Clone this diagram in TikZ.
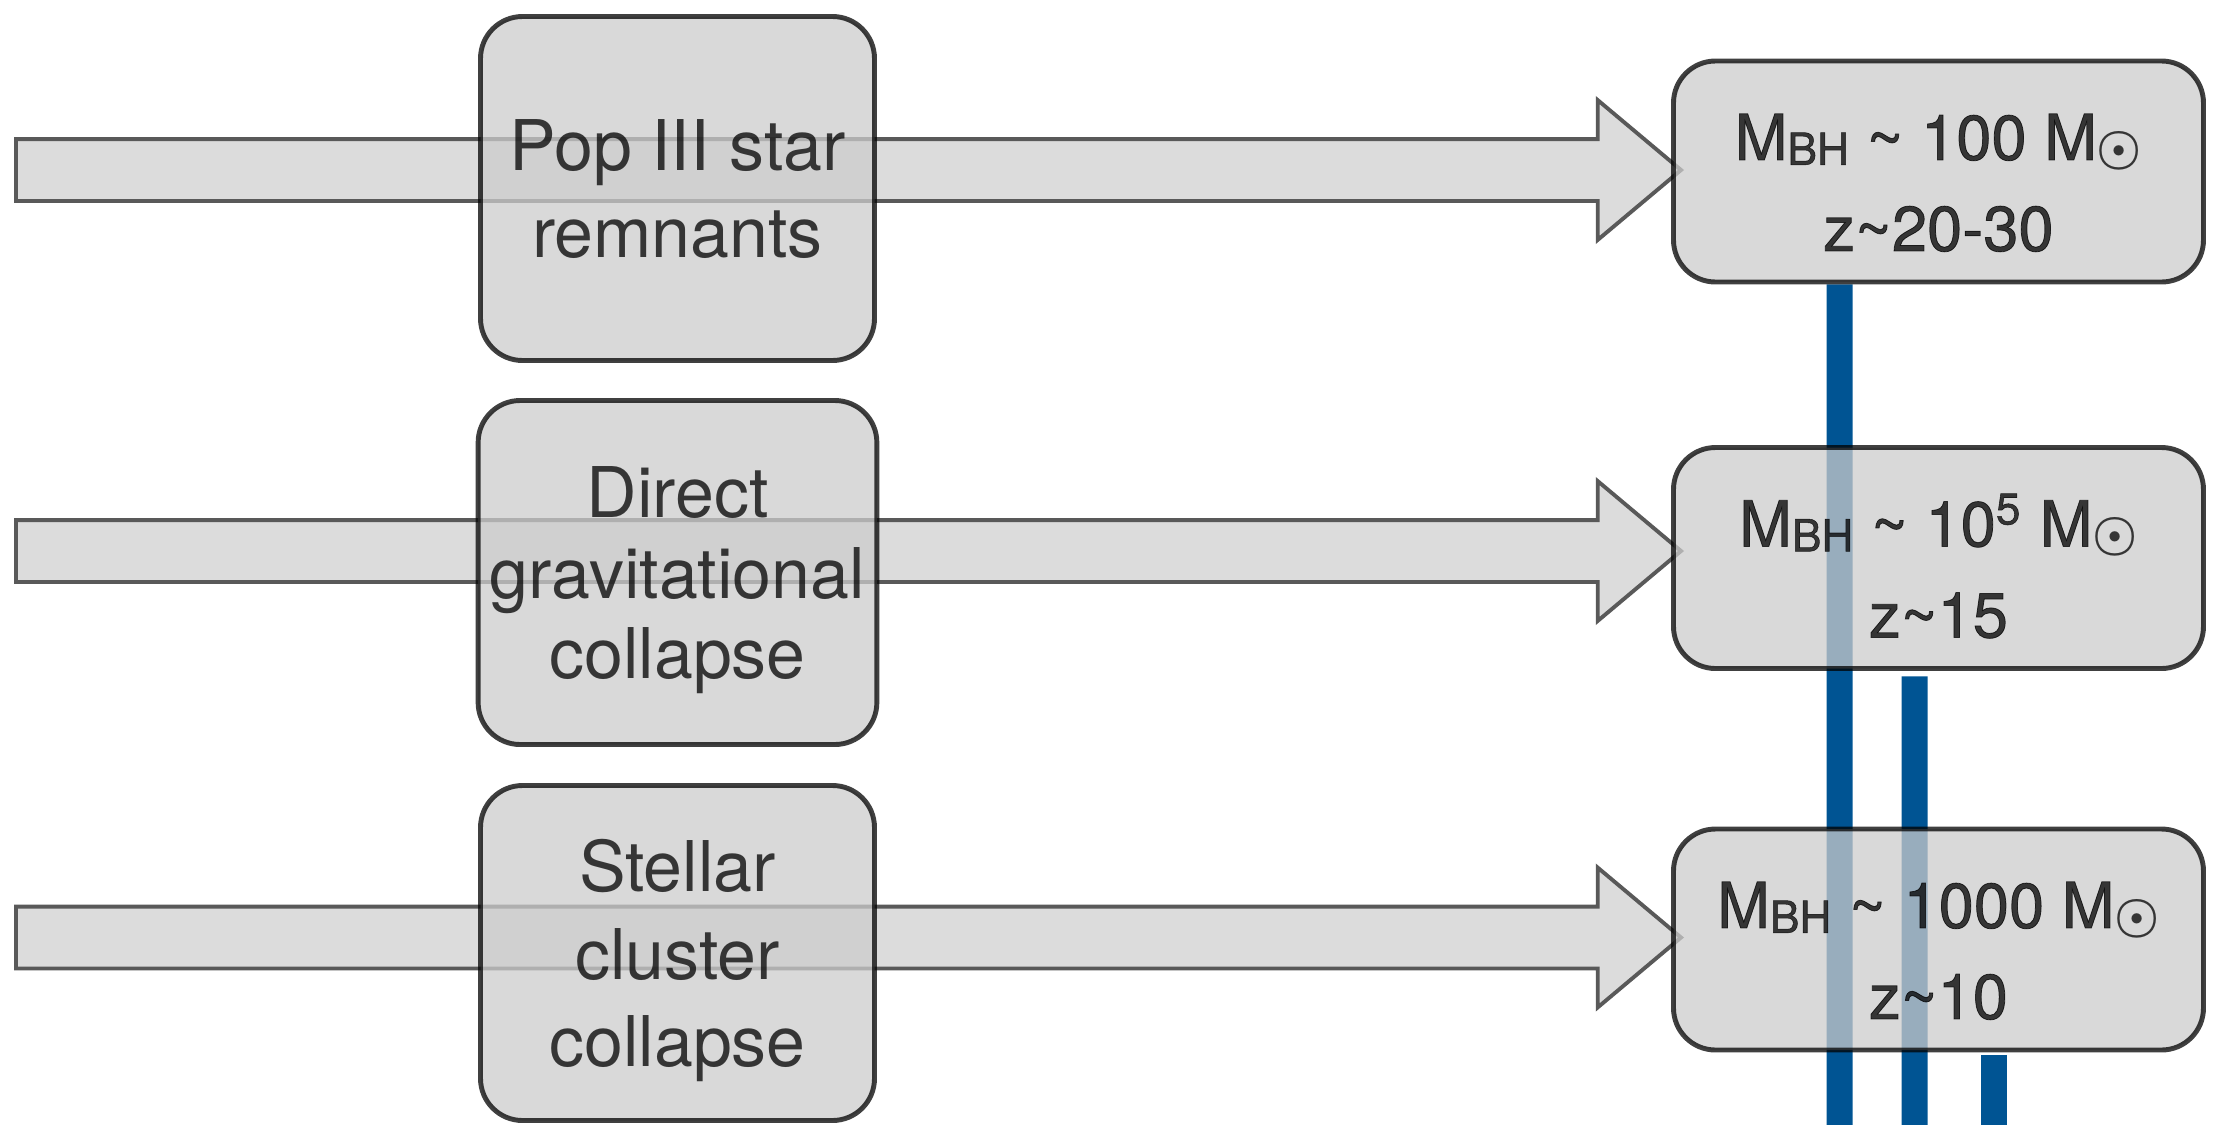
\documentclass[tikz,border=0pt]{standalone}
\usepackage{fontspec}
\usepackage{bm}
\setmainfont{TeX Gyre Heros}
\newfontfamily\mediumfont{TeX Gyre Heros}[FakeBold=1.2]
\usetikzlibrary{shapes.arrows, positioning}
\pgfdeclarelayer{background}
\pgfsetlayers{background,main}
\definecolor{boxgray}{HTML}{CCCCCC}
\definecolor{feedgray}{HTML}{DCDCDC}
\definecolor{feedline}{HTML}{595959}
\definecolor{ocean}{HTML}{005493}
\tikzstyle{seedbox} = [rectangle, rounded corners=0.42cm, minimum width=3.94cm, minimum height=3.44cm, align=center, text depth=0pt, draw=black, draw opacity=0.75, fill=boxgray, fill opacity=0.75, text=black, text opacity=0.75, line width=1.4pt, font=\fontsize{19.9}{24.8}\selectfont]
\tikzstyle{bhbox} = [rectangle, rounded corners=0.42cm, minimum width=5.3cm, minimum height=2.21cm, align=center, text depth=0pt, draw=black, draw opacity=0.75, fill=boxgray, fill opacity=0.75, text=black, text opacity=0.75, line width=1.4pt, font=\mediumfont\fontsize{18}{25.9}\selectfont]
\tikzstyle{feed} = [single arrow, single arrow head extend=0.39cm, single arrow tip angle=80, minimum height=16.65cm, inner xsep=0pt, inner ysep=0.29cm, fill=feedgray, draw=feedline, line width=1.1pt, anchor=tip]
\tikzstyle{track} = [line width=0.26cm, draw=ocean]
\newcommand{\mbh}{M\raisebox{-1.4pt}{\fontsize{12.6}{12}\selectfont BH}}
\newcommand{\msun}{M\raisebox{-1pt}{\fontsize{13.5}{13}\selectfont$\bm{\odot}$}}

\begin{document}
\begin{tikzpicture}
	\useasboundingbox (0,0) rectangle (22.24,-11.25);
	% seeds
	\node (popiii) [seedbox] at (6.775,-1.885) {Pop III star\\remnants};
	\node (direct) [seedbox, below of=popiii, yshift=-2.84cm, font=\fontsize{19.9}{22.8}\selectfont] {Direct\\gravitational\\collapse};
	\node (cluster) [seedbox, below of=direct, yshift=-2.805cm, minimum height=3.35cm] {Stellar\\cluster\\collapse};
	% black holes
	\node (bh1) [bhbox] at (19.385,-1.715) {\rule{0pt}{19.3pt}\mbh{} \textasciitilde{} 100 \msun\\z\textasciitilde20-30};
	\node (bh2) [bhbox, below of=bh1, yshift=-2.865cm] {\rule{0pt}{19.3pt}\mbh{} \textasciitilde{} 10\textsuperscript{5} \msun\\z\textasciitilde15};
	\node (bh3) [bhbox, below of=bh2, yshift=-2.815cm] {\rule{0pt}{19.3pt}\mbh{} \textasciitilde{} 1000 \msun\\z\textasciitilde10};
	\coordinate (sink1) at (18.395,-11.25);
	\coordinate (sink2) at (19.145,-11.25);
	\coordinate (sink3) at (19.935,-11.25);
	\begin{pgfonlayer}{background}
		\node (feed1) [feed] at ([xshift=0.13cm, yshift=0.015cm]bh1.west) {};
		\node (feed2) [feed] at ([xshift=0.13cm, yshift=0.07cm]bh2.west) {};
		\node (feed3) [feed] at ([xshift=0.13cm, yshift=0.02cm]bh3.west) {};
		\draw [track] ([xshift=-0.99cm]bh1.south) -- (sink1);
		\draw [track] ([xshift=-0.24cm, yshift=-0.055cm]bh2.south) -- (sink2);
		\draw [track] ([xshift=0.55cm, yshift=-0.025cm]bh3.south) -- (sink3);
	\end{pgfonlayer}
\end{tikzpicture}
\end{document}
